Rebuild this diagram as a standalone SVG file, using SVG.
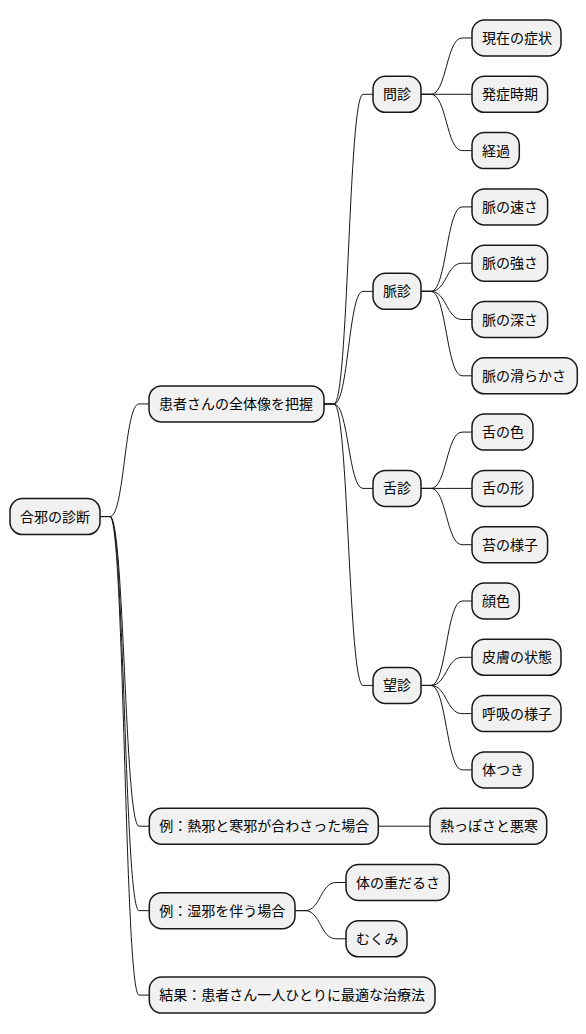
<svg xmlns="http://www.w3.org/2000/svg" width="586" height="1034" viewBox="0 0 586 1034">
<style>
.n rect{fill:#F1F1F1;stroke:#181818;stroke-width:1.5}
.n text{font-family:"Liberation Sans","Noto Sans CJK JP",sans-serif;font-size:14px;fill:#000000}
#connectors path{fill:none;stroke:#181818;stroke-width:1}
</style>
<rect x="0" y="0" width="586" height="1034" fill="#FFFFFF"/>
<g id="connectors">
<path d="M100 516.55 L110 516.55 C124.5 516.55 124.5 403.95 139 403.95 L149 403.95"/>
<path d="M100 516.55 L110 516.55 C124.5 516.55 124.5 826.2 139 826.2 L149 826.2"/>
<path d="M100 516.55 L110 516.55 C124.5 516.55 124.5 910.65 139 910.65 L149 910.65"/>
<path d="M100 516.55 L110 516.55 C124.5 516.55 124.5 995.1 139 995.1 L149 995.1"/>
<path d="M324 403.95 L334 403.95 C348.5 403.95 348.5 94.3 363 94.3 L373 94.3"/>
<path d="M324 403.95 L334 403.95 C348.5 403.95 348.5 291.35 363 291.35 L373 291.35"/>
<path d="M324 403.95 L334 403.95 C348.5 403.95 348.5 488.4 363 488.4 L373 488.4"/>
<path d="M324 403.95 L334 403.95 C348.5 403.95 348.5 685.45 363 685.45 L373 685.45"/>
<path d="M421 94.3 L431 94.3 C446.5 94.3 446.5 38 462 38 L472 38"/>
<path d="M421 94.3 L472 94.3"/>
<path d="M421 94.3 L431 94.3 C446.5 94.3 446.5 150.6 462 150.6 L472 150.6"/>
<path d="M421 291.35 L431 291.35 C446.5 291.35 446.5 206.9 462 206.9 L472 206.9"/>
<path d="M421 291.35 L431 291.35 C446.5 291.35 446.5 263.2 462 263.2 L472 263.2"/>
<path d="M421 291.35 L431 291.35 C446.5 291.35 446.5 319.5 462 319.5 L472 319.5"/>
<path d="M421 291.35 L431 291.35 C446.5 291.35 446.5 375.8 462 375.8 L472 375.8"/>
<path d="M421 488.4 L431 488.4 C446.5 488.4 446.5 432.1 462 432.1 L472 432.1"/>
<path d="M421 488.4 L472 488.4"/>
<path d="M421 488.4 L431 488.4 C446.5 488.4 446.5 544.7 462 544.7 L472 544.7"/>
<path d="M421 685.45 L431 685.45 C446.5 685.45 446.5 601 462 601 L472 601"/>
<path d="M421 685.45 L431 685.45 C446.5 685.45 446.5 657.3 462 657.3 L472 657.3"/>
<path d="M421 685.45 L431 685.45 C446.5 685.45 446.5 713.6 462 713.6 L472 713.6"/>
<path d="M421 685.45 L431 685.45 C446.5 685.45 446.5 769.9 462 769.9 L472 769.9"/>
<path d="M378.3 826.2 L430 826.2"/>
<path d="M295 910.65 L305 910.65 C320.5 910.65 320.5 882.5 336 882.5 L346 882.5"/>
<path d="M295 910.65 L305 910.65 C320.5 910.65 320.5 938.8 336 938.8 L346 938.8"/>
</g>
<g id="root" class="n"><rect x="10" y="498.55" width="90" height="36" rx="12.5"/><text x="20" y="521.55">合邪の診断</text></g>
<g id="n-zentai" class="n"><rect x="149" y="385.95" width="175" height="36" rx="12.5"/><text x="159" y="408.95">患者さんの全体像を把握</text></g>
<g id="n-monshin" class="n"><rect x="373" y="76.3" width="48" height="36" rx="12.5"/><text x="383" y="99.3">問診</text></g>
<g id="n-genzai" class="n"><rect x="472" y="20" width="89" height="36" rx="12.5"/><text x="482" y="43">現在の症状</text></g>
<g id="n-hassho" class="n"><rect x="472" y="76.3" width="75.6" height="36" rx="12.5"/><text x="482" y="99.3">発症時期</text></g>
<g id="n-keika" class="n"><rect x="472" y="132.6" width="47.3" height="36" rx="12.5"/><text x="482" y="155.6">経過</text></g>
<g id="n-myakushin" class="n"><rect x="373" y="273.35" width="48" height="36" rx="12.5"/><text x="383" y="296.35">脈診</text></g>
<g id="n-hayasa" class="n"><rect x="472" y="188.9" width="75.6" height="36" rx="12.5"/><text x="482" y="211.9">脈の速さ</text></g>
<g id="n-tsuyosa" class="n"><rect x="472" y="245.2" width="75.6" height="36" rx="12.5"/><text x="482" y="268.2">脈の強さ</text></g>
<g id="n-fukasa" class="n"><rect x="472" y="301.5" width="75.6" height="36" rx="12.5"/><text x="482" y="324.5">脈の深さ</text></g>
<g id="n-nameraka" class="n"><rect x="472" y="357.8" width="105.3" height="36" rx="12.5"/><text x="482" y="380.8">脈の滑らかさ</text></g>
<g id="n-zesshin" class="n"><rect x="373" y="470.4" width="48" height="36" rx="12.5"/><text x="383" y="493.4">舌診</text></g>
<g id="n-iro" class="n"><rect x="472" y="414.1" width="61" height="36" rx="12.5"/><text x="482" y="437.1">舌の色</text></g>
<g id="n-katachi" class="n"><rect x="472" y="470.4" width="61" height="36" rx="12.5"/><text x="482" y="493.4">舌の形</text></g>
<g id="n-koke" class="n"><rect x="472" y="526.7" width="75.6" height="36" rx="12.5"/><text x="482" y="549.7">苔の様子</text></g>
<g id="n-boshin" class="n"><rect x="373" y="667.45" width="48" height="36" rx="12.5"/><text x="383" y="690.45">望診</text></g>
<g id="n-kaoiro" class="n"><rect x="472" y="583" width="47.3" height="36" rx="12.5"/><text x="482" y="606">顔色</text></g>
<g id="n-hifu" class="n"><rect x="472" y="639.3" width="89" height="36" rx="12.5"/><text x="482" y="662.3">皮膚の状態</text></g>
<g id="n-kokyu" class="n"><rect x="472" y="695.6" width="89" height="36" rx="12.5"/><text x="482" y="718.6">呼吸の様子</text></g>
<g id="n-karada" class="n"><rect x="472" y="751.9" width="61" height="36" rx="12.5"/><text x="482" y="774.9">体つき</text></g>
<g id="n-rei1" class="n"><rect x="149.3" y="808.2" width="229" height="36" rx="12.5"/><text x="159.3" y="831.2">例：熱邪と寒邪が合わさった場合</text></g>
<g id="n-netsu" class="n"><rect x="430" y="808.2" width="116.7" height="36" rx="12.5"/><text x="440" y="831.2">熱っぽさと悪寒</text></g>
<g id="n-rei2" class="n"><rect x="149.3" y="892.65" width="145.7" height="36" rx="12.5"/><text x="159.3" y="915.65">例：湿邪を伴う場合</text></g>
<g id="n-omodarusa" class="n"><rect x="346" y="864.5" width="103.3" height="36" rx="12.5"/><text x="356" y="887.5">体の重だるさ</text></g>
<g id="n-mukumi" class="n"><rect x="346" y="920.8" width="61" height="36" rx="12.5"/><text x="356" y="943.8">むくみ</text></g>
<g id="n-kekka" class="n"><rect x="149.3" y="977.1" width="285.7" height="36" rx="12.5"/><text x="159.3" y="1000.1">結果：患者さん一人ひとりに最適な治療法</text></g>
</svg>
